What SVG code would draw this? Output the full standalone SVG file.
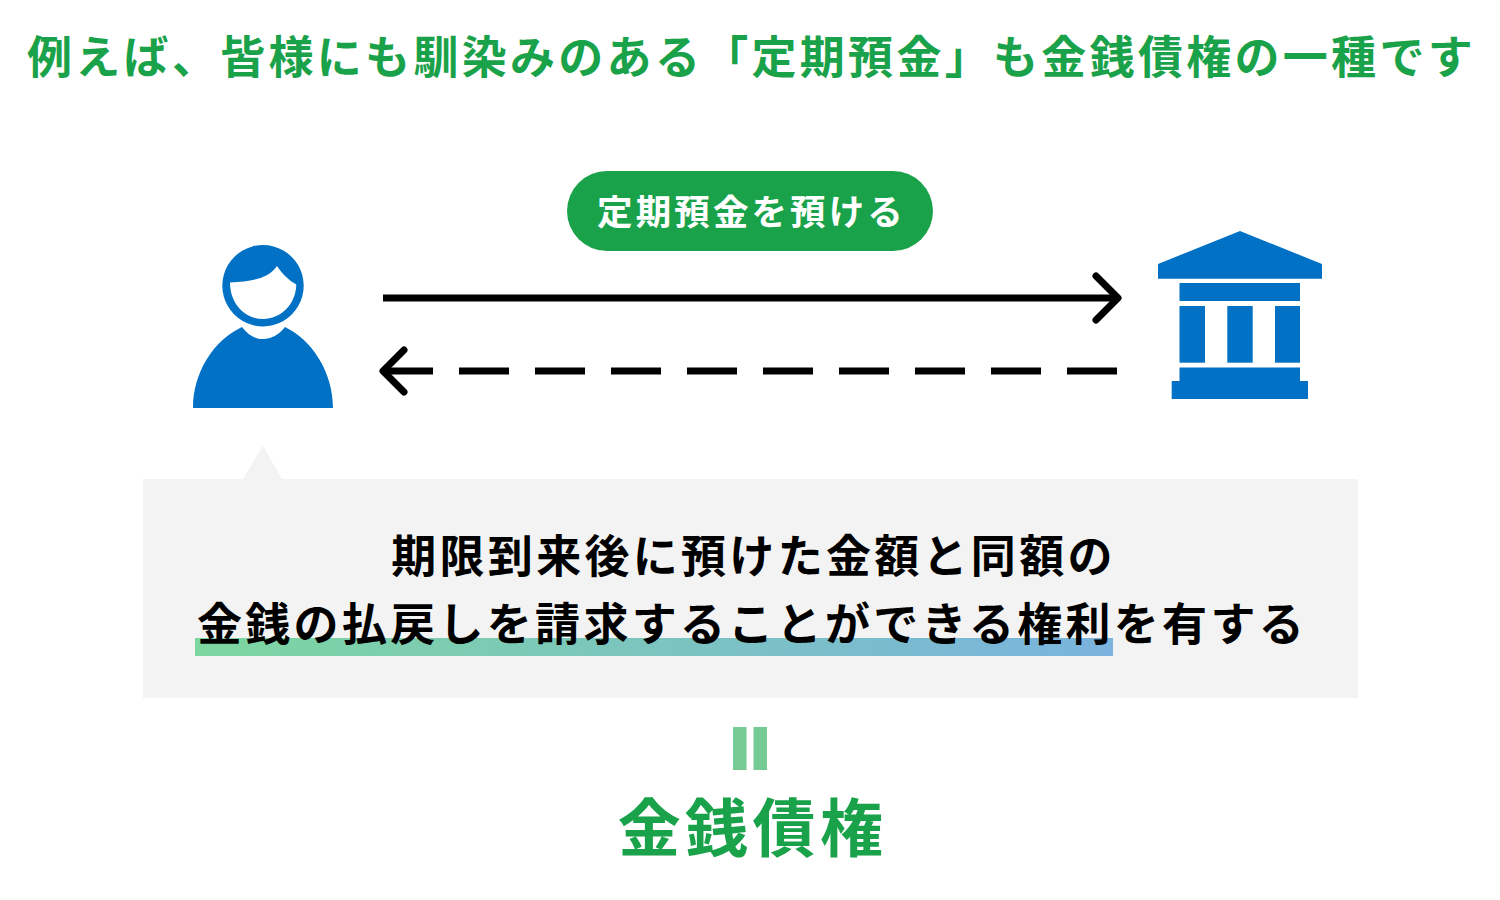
<svg xmlns="http://www.w3.org/2000/svg" width="1500" height="900" viewBox="0 0 1500 900">
<style>
text{font-family:"Noto Sans CJK JP","Noto Sans",sans-serif;font-weight:700;text-anchor:middle}
.g{fill:#1aa24a}.b{fill:#0071c5}.k{fill:#000}
.l{fill:none;stroke:#000;stroke-width:7}
.h{fill:none;stroke:#000;stroke-width:7;stroke-linecap:round;stroke-linejoin:round}
</style>
<defs><linearGradient id="u" x1="0" x2="1" y1="0" y2="0"><stop offset="0" stop-color="#7dd6a0"/><stop offset="1" stop-color="#7ab3de"/></linearGradient></defs>
<rect width="1500" height="900" fill="#fff"/>
<text id="title" class="g" x="751.500" y="73.500" font-size="45" letter-spacing="3.300">例えば、皆様にも馴染みのある「定期預金」も金銭債権の一種です</text>
<g id="deposit-label"><rect x="567" y="171" width="366" height="80" rx="40" class="g"/><text x="751.500" y="224.500" font-size="35.500" letter-spacing="3.100" fill="#fff">定期預金を預ける</text></g>
<g id="person">
<path class="b" fill-rule="evenodd" d="M263 245a40.7 40.7 0 1 0 0.01 0ZM230 282.500C252 282 269 278 277 266C283 275 290 281 296.300 284.500C296 304 281 319 263 319C245 319 230 304 230 282.500Z"/>
<path class="b" d="M193 408C193 372 214 340 242 327C248 335 255 339 263 339C271 339 279 335 285 327C312 340 333 372 333 408Z"/>
</g>
<g id="bank" class="b">
<path d="M1240 231L1322 264V278.700H1158V264Z"/>
<rect x="1179.500" y="283" width="120.500" height="18"/>
<rect x="1179.500" y="306" width="25.500" height="56.700"/><rect x="1227.300" y="306" width="25.400" height="56.700"/><rect x="1275" y="306" width="25" height="56.700"/>
<path d="M1179.500 367.500H1300V381H1308V399H1171.700V381H1179.500Z"/>
</g>
<g id="connectors">
<path class="l" d="M383 298H1117"/><path class="h" d="M1096 276L1118 298L1096 320"/>
<path class="l" d="M1117 371H385" stroke-dasharray="50 26"/><path class="h" d="M404 350L383 371L404 392"/>
</g>
<g id="callout">
<path fill="#f3f3f3" d="M143 479H243L263 446L282 479H1358V698H143Z"/>
<rect x="195" y="638" width="918" height="18" fill="url(#u)"/>
<text class="k" x="753.500" y="572.500" font-size="45" letter-spacing="3.300">期限到来後に預けた金額と同額の</text>
<text class="k" x="752" y="640.500" font-size="45" letter-spacing="3.300">金銭の払戻しを請求することができる権利を有する</text>
</g>
<g id="equals" fill="#76ca93"><rect x="733" y="727" width="13.500" height="43"/><rect x="753.500" y="727" width="13.500" height="43"/></g>
<text id="result" class="g" x="752.500" y="850.500" font-size="63" letter-spacing="4.400">金銭債権</text>
</svg>
